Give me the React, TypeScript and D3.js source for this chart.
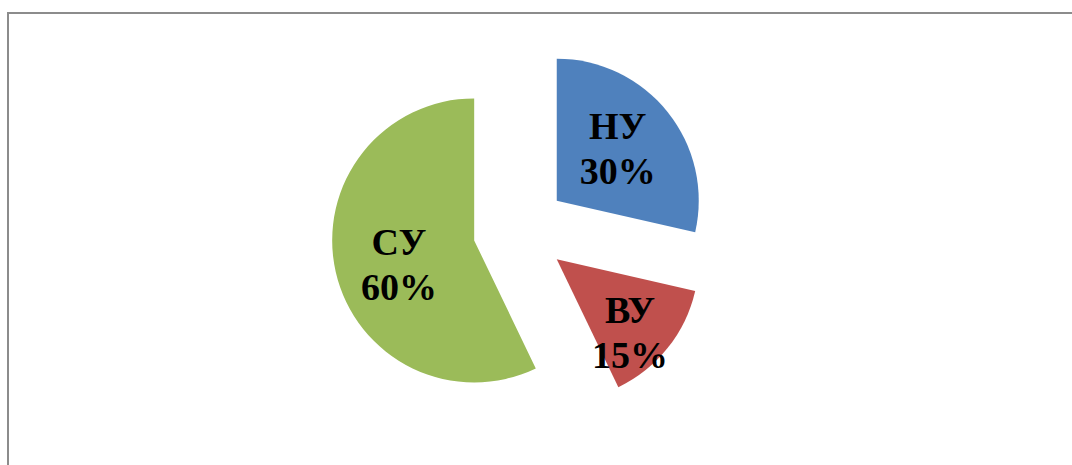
import React from "react";
import * as d3 from "d3";

// slice data (clockwise from 12 o'clock)
const names = ["НУ", "ВУ", "СУ"];
const values = [30, 15, 60];
const labels = ["30%", "15%", "60%"];
const colors = ["#4F81BD", "#C0504D", "#9BBB59"];

const W = 1072;
const H = 465;
const cx = 520;
const cy = 230;
const radius = 142;
const explode = 47;
// label block placement relative to each slice's own apex (distance, turn in degrees)
const labelDist = [78, 106, 80];
const labelTurn = [0, 7.7, -7];

export default function App() {
  const pie = d3
    .pie<number>()
    .sort(null)
    .value((d) => d);
  const arcs = pie(values);
  const arc = d3.arc<d3.PieArcDatum<number>>().innerRadius(0).outerRadius(radius);

  return (
    <svg
      width={W}
      height={H}
      style={{ position: "absolute", left: 0, top: 0, background: "#fff" }}
    >
      <rect x={8} y={13} width={1070} height={500} fill="#fff" stroke="#8c8c8c" strokeWidth={2} />
      {arcs.map((a, i) => {
        const mid = (a.startAngle + a.endAngle) / 2;
        const ox = cx + explode * Math.sin(mid);
        const oy = cy - explode * Math.cos(mid);
        const la = mid + (labelTurn[i] * Math.PI) / 180;
        const lx = labelDist[i] * Math.sin(la);
        const ly = -labelDist[i] * Math.cos(la);
        return (
          <g key={names[i]} transform={`translate(${ox},${oy})`}>
            <path d={arc(a) || ""} fill={colors[i]} />
            <text
              x={lx}
              y={ly}
              textAnchor="middle"
              fontFamily="'Times New Roman', 'Liberation Serif', serif"
              fontWeight="bold"
              fontSize={38}
              fill="#000"
            >
              <tspan x={lx} dy={-13}>{names[i]}</tspan>
              <tspan x={lx} dy={45}>{labels[i]}</tspan>
            </text>
          </g>
        );
      })}
    </svg>
  );
}
